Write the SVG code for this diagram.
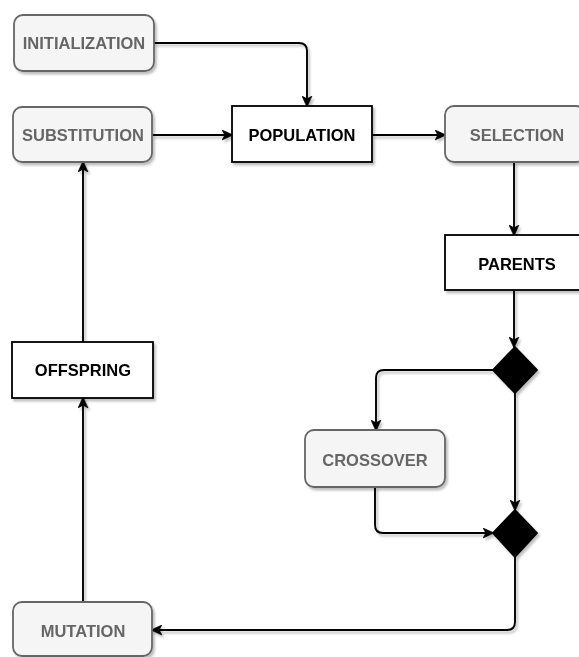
<svg xmlns="http://www.w3.org/2000/svg" width="579" height="657" viewBox="0 0 579 657">
  <style>
    .soft rect { fill: #f5f5f5; stroke: #666666; stroke-width: 1.8; }
    .hard rect { fill: #ffffff; stroke: #000000; stroke-width: 1.8; }
    .dia path { fill: #000000; stroke: #000000; stroke-width: 1.8; }
    text { font-family: "Liberation Sans", Arial, Helvetica, sans-serif; font-weight: bold; font-size: 16.5px; text-anchor: middle; dominant-baseline: central; }
    .soft text { fill: #666666; }
    .hard text { fill: #000000; }
    .edges path { fill: none; stroke: #000000; stroke-width: 1.9; marker-end: url(#arrow); }
  </style>
  <defs>
    <filter id="shadow" x="-10%" y="-10%" width="130%" height="140%">
      <feDropShadow dx="2" dy="2.5" stdDeviation="0.8" flood-color="#000000" flood-opacity="0.25"/>
    </filter>
    <marker id="arrow" viewBox="0 0 10 10" refX="9" refY="5" markerWidth="11" markerHeight="11" markerUnits="userSpaceOnUse" orient="auto">
      <path d="M0,0.5 L10,5 L0,9.5 L2.5,5 Z" fill="#000000" stroke="#000000" stroke-width="0.6"/>
    </marker>
  </defs>
  <rect width="579" height="657" fill="#ffffff"/>

  <!-- connectors -->
  <g id="edges" class="edges" filter="url(#shadow)">
    <path d="M154,43 H299 Q307,43 307,51 V106"/>
    <path d="M152,135 H232"/>
    <path d="M372,135 H445"/>
    <path d="M514,162 V235"/>
    <path d="M514,290 V347"/>
    <path d="M493,370 H384 Q376,370 376,378 V430"/>
    <path d="M515,393 V510"/>
    <path d="M375,487 V525 Q375,533 383,533 H493"/>
    <path d="M515,557 V622 Q515,630 507,630 H152"/>
    <path d="M83,602 V398"/>
    <path d="M83,342 V162"/>
  </g>

  <!-- nodes -->
  <g id="initialization" class="soft" filter="url(#shadow)">
    <rect x="14" y="15" width="140" height="56" rx="9"/>
    <text x="84" y="43">INITIALIZATION</text>
  </g>
  <g id="substitution" class="soft" filter="url(#shadow)">
    <rect x="13" y="107" width="139" height="55" rx="9"/>
    <text x="83" y="135">SUBSTITUTION</text>
  </g>
  <g id="population" class="hard" filter="url(#shadow)">
    <rect x="232" y="106" width="140" height="56"/>
    <text x="302" y="135">POPULATION</text>
  </g>
  <g id="selection" class="soft" filter="url(#shadow)">
    <rect x="445" y="106" width="140" height="56" rx="9"/>
    <text x="517" y="135">SELECTION</text>
  </g>
  <g id="parents" class="hard" filter="url(#shadow)">
    <rect x="445" y="235" width="140" height="55"/>
    <text x="517" y="264">PARENTS</text>
  </g>
  <g id="split" class="dia" filter="url(#shadow)">
    <path d="M515,347 L537,370 L515,393 L493,370 Z"/>
  </g>
  <g id="crossover" class="soft" filter="url(#shadow)">
    <rect x="305" y="430" width="140" height="57" rx="9"/>
    <text x="375" y="460">CROSSOVER</text>
  </g>
  <g id="merge" class="dia" filter="url(#shadow)">
    <path d="M515,510 L537,533 L515,557 L493,533 Z"/>
  </g>
  <g id="mutation" class="soft" filter="url(#shadow)">
    <rect x="13" y="602" width="139" height="54" rx="9"/>
    <text x="83" y="631">MUTATION</text>
  </g>
  <g id="offspring" class="hard" filter="url(#shadow)">
    <rect x="12" y="342" width="141" height="56"/>
    <text x="83" y="370">OFFSPRING</text>
  </g>
</svg>
